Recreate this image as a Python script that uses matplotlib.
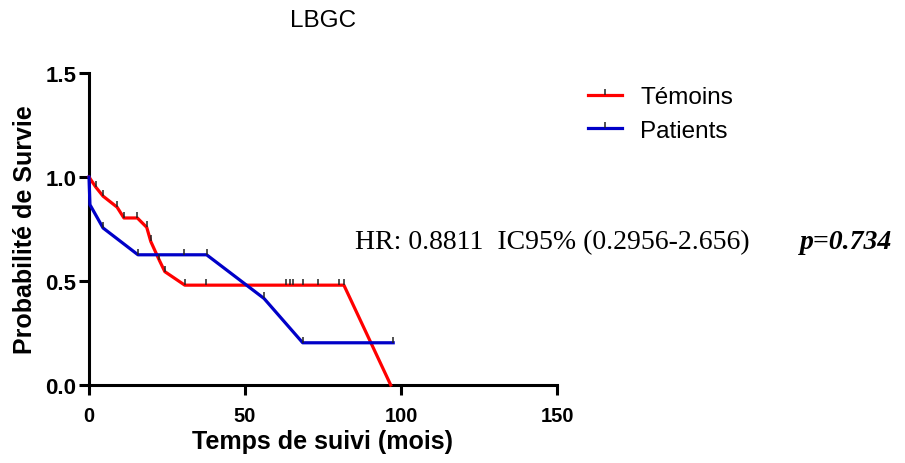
import numpy as np
import matplotlib.pyplot as plt
from matplotlib.path import Path
from matplotlib.lines import Line2D

# Kaplan-Meier points (months, survival), drawn point to point like GraphPad
temoins_time = [0, 2.15, 4.5, 9.0, 11.2, 15.5, 18.5, 19.8, 22.5, 24.3, 30.7, 37.4,
                63.1, 64.5, 65.4, 68.7, 73.5, 80.2, 81.7, 96.7]
temoins_surv = [1.0, 0.952, 0.908, 0.855, 0.803, 0.803, 0.758, 0.69, 0.601, 0.545, 0.48, 0.48,
                0.48, 0.48, 0.48, 0.48, 0.48, 0.48, 0.48, 0.0]
temoins_cens = [0, 1, 1, 1, 1, 1, 1, 1, 1, 1, 1, 1,
                1, 1, 1, 1, 1, 1, 1, 0]

patients_time = [0, 0.3, 4.5, 15.7, 30.4, 37.7, 56.1, 68.5, 97.5]
patients_surv = [1.0, 0.867, 0.755, 0.626, 0.626, 0.626, 0.416, 0.203, 0.203]
patients_cens = [0, 0, 1, 1, 1, 1, 1, 1, 1]

labels = ["Témoins", "Patients"]
colors = ["#FF0000", "#0000C8"]

title = "LBGC"
hr_text = "HR: 0.8811  IC95% (0.2956-2.656)"
p_text = "p=0.734"

W, H = 905, 464

# censor tick: short vertical line going up from the point
tick = Path([(0, 0), (0, 1)], [Path.MOVETO, Path.LINETO])

plt.rcParams['font.family'] = ['Liberation Sans', 'DejaVu Sans']

fig = plt.figure(figsize=(W / 100, H / 100), dpi=100)
ax = fig.add_axes([89 / W, 1 - 386 / H, (557 - 89) / W, (386 - 74) / H])

series = [(temoins_time, temoins_surv, temoins_cens),
          (patients_time, patients_surv, patients_cens)]
handles = []
for (t, s, c), lab, col in zip(series, labels, colors):
    t = np.array(t)
    s = np.array(s)
    c = np.array(c, dtype=bool)
    ax.plot(t, s, color=col, lw=2.3, solid_joinstyle='round', clip_on=False, zorder=3)
    ax.plot(t[c], s[c], ls='none', marker=tick, ms=9, mew=1.1, mec='#222222',
            clip_on=False, zorder=4)
    handles.append(Line2D([], [], color=col, lw=2.3, marker=tick, ms=9, mew=1.1,
                          mec='#222222'))

ax.set_xlim(0, 150)
ax.set_ylim(0, 1.5)
ax.set_xticks([0, 50, 100, 150])
ax.set_yticks([0.0, 0.5, 1.0, 1.5])
ax.set_yticklabels(["0.0", "0.5", "1.0", "1.5"])
for sp in ['top', 'right']:
    ax.spines[sp].set_visible(False)
for sp in ['left', 'bottom']:
    ax.spines[sp].set_linewidth(2.2)
ax.tick_params(axis='both', length=7, width=2.2)
ax.tick_params(axis='x', pad=8, labelsize=14.5)
ax.tick_params(axis='y', pad=2, labelsize=16)
for lab in ax.get_xticklabels() + ax.get_yticklabels():
    lab.set_fontweight('bold')

ax.set_xlabel("Temps de suivi (mois)", fontsize=18, fontweight='bold', labelpad=3)
ax.set_ylabel("Probabilité de Survie", fontsize=18, fontweight='bold', labelpad=6)

fig.text(323 / W, 1 - 21 / H, title, ha='center', va='center', fontsize=17.5)

fig.legend(handles, labels, loc='upper left', bbox_to_anchor=(588 / W, 1 - 87 / H),
           frameon=False, fontsize=17.5, handlelength=1.4, handletextpad=0.75,
           labelspacing=0.48, borderpad=0, borderaxespad=0, numpoints=1)

fig.text(355 / W, 1 - 249 / H, hr_text, ha='left', va='baseline', fontsize=20,
         family=['Liberation Serif', 'DejaVu Serif'])
fig.text(800 / W, 1 - 249 / H, p_text, ha='left', va='baseline', fontsize=20,
         fontweight='bold', fontstyle='italic', family=['Liberation Serif', 'DejaVu Serif'])

fig.savefig("out.png", dpi=100)
